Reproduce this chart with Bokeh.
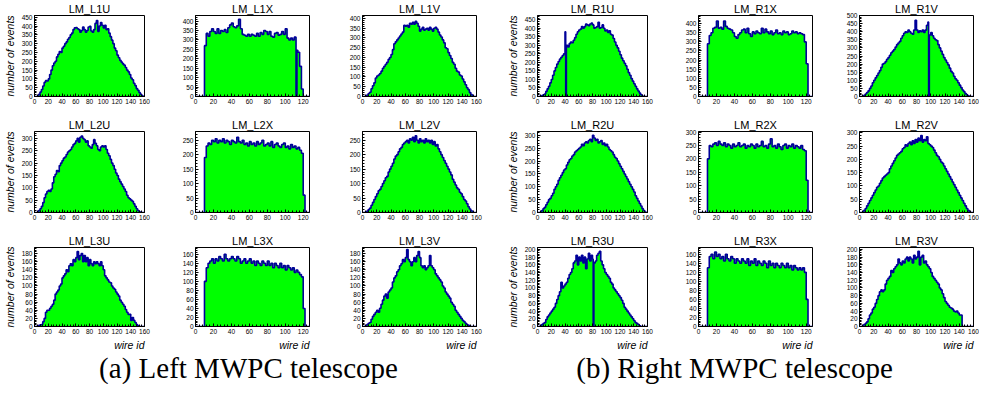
import numpy as np
from bokeh.plotting import figure
from bokeh.layouts import row, column
from bokeh.models import Range1d, SingleIntervalTicker, Label, Title
from bokeh.embed import file_html
from bokeh.resources import INLINE

# counts per 2-wire bin (wires 0,2,4,...)
L1U = [0,0,3,12,25,40,60,80,90,88, 100,125,150,175,190,200,225,240,255,250, 275,285,300,310,325,335,350,360,380,390, 392,385,380,365,375,395,380,365,375,395, 398,372,365,380,415,432,370,400,420,405, 390,405,380,385,360,340,320,300,275,260, 235,220,205,195,185,178,165,150,140,125, 105,95,75,62,45,35,22,12,4,0]
L1X = [0,0,0,0,0,270,335,320,345,360, 345,335,360,335,350,345,355,340,365,380, 390,370,365,375,410,360,330,325,320,330, 320,330,325,320,335,320,340,330,350,345, 330,345,320,315,335,340,325,330,345,330, 360,310,300,310,300,315,245,235,160,40, 0,0,0,0]
L1V = [0,0,2,8,15,22,40,55,70,95, 105,110,118,130,145,155,165,175,190,200, 215,240,270,280,290,300,310,320,330,365, 360,365,355,375,370,380,370,385,375,360, 335,345,355,340,345,350,340,355,345,335, 350,355,345,330,315,305,290,275,250,245, 225,210,195,175,165,145,130,125,110,105, 90,75,60,45,35,20,10,3,0,0]
R1U = [0,0,2,5,10,15,30,45,60,80, 100,125,150,170,190,205,220,230,240,250, 380,300,290,310,320,315,330,345,365,380, 390,395,410,400,410,425,420,415,425,430, 420,400,405,410,435,400,405,420,400,385, 390,375,385,365,360,340,320,300,285,265, 245,225,210,195,180,160,140,125,105,90, 75,60,45,32,20,10,3,0,0,0]
R1X = [0,0,0,0,0,290,335,350,375,380, 415,375,380,370,415,385,375,370,365,350, 330,320,340,350,365,370,350,375,345,330, 355,345,360,350,345,375,350,370,355,345, 360,340,350,365,345,350,340,360,350,355, 340,345,360,350,355,345,350,345,340,300, 180,0,0,0]
R1V = [0,0,2,8,15,25,35,50,65,85, 100,115,130,145,160,180,200,205,215,230, 240,255,270,280,290,305,320,330,340,360, 375,390,400,395,410,400,390,385,410,470, 410,395,405,400,410,395,410,440,460,380, 395,375,360,350,345,320,300,280,260,240, 225,210,195,175,155,145,125,110,100,85, 70,55,40,30,18,10,5,0,0,0]
L2U = [0,0,2,8,15,25,40,60,75,85, 90,85,95,120,145,155,170,165,190,200, 210,220,225,235,245,250,255,265,275,280, 290,300,285,305,310,300,295,285,290,270, 265,260,275,295,280,270,255,250,265,270, 265,270,255,240,230,215,200,190,175,160, 150,135,125,115,105,95,85,70,60,55, 50,45,35,25,15,8,3,0,0,0]
L2X = [0,0,0,0,0,190,230,240,235,250, 245,255,240,250,245,255,240,250,245,235, 250,245,240,260,245,240,250,235,240,230, 245,235,240,230,245,235,240,250,230,235, 240,230,245,225,235,240,230,225,235,240, 225,230,220,235,225,230,220,225,215,205, 60,0,0,0]
L2V = [0,0,2,5,10,15,25,35,45,55, 65,75,80,90,100,110,120,125,140,150, 160,170,185,195,200,210,220,225,235,240, 245,250,240,255,250,260,245,265,250,240, 255,245,250,240,255,245,250,240,250,235, 245,230,235,220,210,200,190,180,170,160, 150,140,130,115,105,95,85,80,70,65, 55,45,40,30,20,12,6,2,0,0]
R2U = [0,0,2,8,15,20,30,40,50,55, 65,75,90,100,110,125,135,145,155,165, 170,185,195,205,210,220,225,235,240,245, 250,255,265,260,270,275,270,280,285,275, 300,290,280,285,270,275,280,265,270,260, 265,255,245,240,235,225,215,210,200,190, 180,170,160,150,140,130,120,110,100,90, 80,65,55,45,35,25,15,8,2,0]
R2X = [0,0,0,0,0,200,250,245,255,260, 250,265,255,250,260,245,255,250,240,255, 245,250,260,245,250,255,240,250,245,255, 250,240,255,245,250,265,245,250,240,255, 275,245,250,240,255,245,235,250,255,240, 250,245,255,240,250,245,240,250,235,230, 120,0,0,0]
R2V = [0,0,2,8,15,25,35,45,55,65, 75,85,95,100,110,120,130,135,140,145, 150,165,175,185,195,205,215,220,225,230, 240,245,255,250,260,265,255,270,260,275, 265,280,270,290,265,275,270,285,260,255, 250,245,235,225,215,210,200,190,185,175, 165,155,145,135,125,115,105,95,85,75, 65,55,45,35,25,15,8,3,0,0]
L3U = [0,0,2,3,4,5,12,20,35,40, 40,45,50,55,65,80,85,90,100,105, 120,125,130,140,135,150,155,150,165,160, 170,185,165,175,180,160,175,160,170,150, 165,155,150,160,155,160,155,150,160,150, 140,125,120,115,110,108,100,95,92,85, 80,75,65,60,55,50,42,35,30,30, 15,22,15,10,5,2,0,0,0,0]
L3X = [0,0,0,0,0,100,130,140,145,150, 140,150,145,155,150,145,160,150,145,150, 155,150,145,155,150,140,145,150,140,145, 150,140,145,135,145,140,135,145,140,135, 145,135,140,130,140,135,130,140,130,135, 125,135,130,125,130,120,125,120,115,110, 40,0,0,0]
L3V = [0,0,2,5,8,10,18,25,30,35, 40,35,45,55,65,75,80,70,85,90, 95,110,120,125,135,140,150,155,165,160, 170,190,165,160,150,160,170,160,175,185, 170,150,145,150,140,145,150,175,150,145, 140,130,125,120,115,110,100,95,85,80, 75,70,60,55,50,40,35,30,25,20, 15,12,8,5,3,0,0,0,0,0]
R3U = [0,0,2,5,8,10,18,25,30,35, 40,45,50,60,70,80,90,115,100,105, 110,115,125,135,140,150,165,170,185,160, 180,170,185,165,180,150,175,190,170,185, 175,165,170,185,190,195,170,160,150,140, 135,130,125,115,110,100,95,90,85,80, 75,68,60,50,45,40,35,30,25,20, 15,10,8,5,2,0,0,0,0,0]
R3X = [0,0,0,0,0,130,155,160,150,165, 155,160,150,155,145,160,150,145,155,150, 140,150,145,140,150,145,140,150,135,145, 140,150,135,145,140,135,145,140,130,145, 135,140,130,140,135,130,140,135,130,140, 130,135,125,135,130,125,130,125,130,120, 60,0,0,0]
R3V = [0,0,2,5,8,12,20,30,35,45, 50,60,70,80,90,95,90,95,110,120, 125,130,145,140,150,155,160,175,165,160, 170,165,175,180,170,180,175,165,185,175, 180,195,160,180,185,165,170,160,155,150, 140,130,125,120,115,110,100,95,85,75, 65,60,55,50,48,45,40,38,40,35, 30,30,0,0,0,0,0,0,0,0]

# single wires read separately (dead / hot channels): wire -> count
WIRE_OVERRIDES = {"LM_L1X": {112: 0}, "LM_R1U": {41: 0}, "LM_R1V": {97: 0}, "LM_R3U": {81: 0}}

# (name, counts, x-axis max, y-axis max, y tick step)
PANELS = [
    [("LM_L1U", L1U, 160, 460, 50), ("LM_L1X", L1X, 127, 430, 50), ("LM_L1V", L1V, 160, 415, 50),
     ("LM_R1U", R1U, 160, 475, 50), ("LM_R1X", R1X, 127, 445, 50), ("LM_R1V", R1V, 160, 500, 50)],
    [("LM_L2U", L2U, 160, 328, 50), ("LM_L2X", L2X, 127, 280, 50), ("LM_L2V", L2V, 160, 280, 50),
     ("LM_R2U", R2U, 160, 315, 50), ("LM_R2X", R2X, 127, 302, 50), ("LM_R2V", R2V, 160, 305, 50)],
    [("LM_L3U", L3U, 160, 195, 20), ("LM_L3X", L3X, 127, 175, 20), ("LM_L3V", L3V, 160, 195, 20),
     ("LM_R3U", R3U, 160, 205, 20), ("LM_R3X", R3X, 127, 175, 20), ("LM_R3V", R3V, 160, 205, 20)],
]

CAPTIONS = ["(a) Left MWPC telescope", "(b) Right MWPC telescope"]

COL_BORDERS = [(30, 21), (30, 23), (30, 27), (30, 21), (30, 17), (30, 6)]
ROW_BORDERS = [(14, 20), (14, 20), (14, 22)]
FRAME_W = 114
FRAME_H = 82
CAP_W = 979
CAP_H = 34

FILL = "#00ff00"
LINE = "#000099"
SANS = "Liberation Sans"


def set_if(model, attr, val):
    if hasattr(model, attr):
        setattr(model, attr, val)


def make_panel(name, counts, xmax, ymax, ystep, ci, ri):
    per_wire = np.repeat(np.asarray(counts, dtype=float), 2)
    for w, c in WIRE_OVERRIDES.get(name, {}).items():
        per_wire[w] = c
    n = len(per_wire)
    edges = np.arange(n + 1)
    xs = np.concatenate([[0], np.repeat(edges, 2)[1:-1], [n]])
    ys = np.concatenate([[0], np.repeat(per_wire, 2), [0]])

    lb, rb = COL_BORDERS[ci]
    tb, bb = ROW_BORDERS[ri]
    p = figure(width=lb + FRAME_W + rb, height=tb + FRAME_H + bb,
               x_range=Range1d(0, xmax), y_range=Range1d(0, ymax),
               output_backend="svg", toolbar_location=None,
               min_border_left=lb, min_border_right=rb,
               min_border_top=tb, min_border_bottom=bb)
    p.grid.visible = False
    p.outline_line_color = "black"
    p.outline_line_width = 1
    p.background_fill_color = "white"
    p.border_fill_color = "white"

    p.title.text = name
    p.title.align = "center"
    p.title.text_font = SANS
    p.title.text_font_style = "normal"
    p.title.text_font_size = "11px"
    p.title.text_color = "black"
    set_if(p.title, "standoff", 1)
    set_if(p.title, "offset", -3)

    p.patch(xs, ys, fill_color=FILL, line_color=None)
    p.line(xs, ys, line_color=LINE, line_width=1.6)

    p.xaxis.ticker = SingleIntervalTicker(interval=20, num_minor_ticks=5)
    p.yaxis.ticker = SingleIntervalTicker(interval=ystep, num_minor_ticks=5)
    for ax in (p.xaxis[0], p.yaxis[0]):
        ax.major_tick_in = 3
        ax.major_tick_out = 0
        ax.minor_tick_in = 2
        ax.minor_tick_out = 0
        ax.major_label_text_font = SANS
        ax.major_label_text_font_size = "6.5px"
        ax.major_label_text_color = "black"
        ax.major_label_standoff = 2
        ax.axis_line_color = "black"
        ax.major_tick_line_color = "black"
        ax.minor_tick_line_color = "black"

    if ci in (0, 3):
        p.yaxis.axis_label = "number of events"
        p.yaxis.axis_label_text_font = SANS
        p.yaxis.axis_label_text_font_style = "italic"
        p.yaxis.axis_label_text_font_size = "10.5px"
        p.yaxis.axis_label_text_color = "black"
        p.yaxis.axis_label_standoff = 3

    if ri == 2:
        wt = Title(text="wire id", align="right", text_font=SANS, text_font_style="italic",
                   text_font_size="10.5px", text_color="black")
        set_if(wt, "standoff", 0)
        p.add_layout(wt, "below")
    return p


rows = []
for ri, prow in enumerate(PANELS):
    figs = [make_panel(name, counts, xmax, ymax, ystep, ci, ri)
            for ci, (name, counts, xmax, ymax, ystep) in enumerate(prow)]
    rows.append(row(*figs))

cap = figure(width=CAP_W, height=CAP_H, x_range=Range1d(0, CAP_W), y_range=Range1d(0, CAP_H),
             output_backend="svg", toolbar_location=None, min_border=0,
             x_axis_type=None, y_axis_type=None, outline_line_color=None)
cap.grid.visible = False
for cx, txt in zip([248, 734], CAPTIONS):
    cap.add_layout(Label(x=cx, y=CAP_H / 2, text=txt, text_align="center", text_baseline="middle",
                         text_font="Liberation Serif", text_font_size="29px", text_color="black"))

layout = column(*rows, cap)
open("out.html", "w").write(file_html(layout, INLINE))
